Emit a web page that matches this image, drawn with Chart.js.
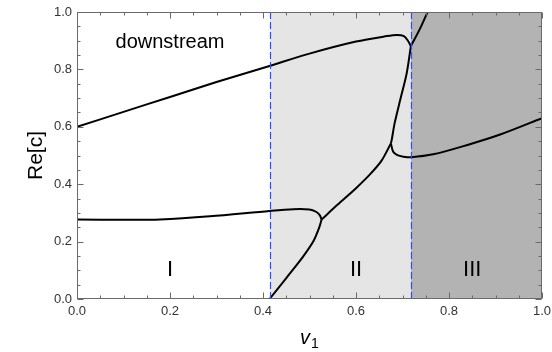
<!DOCTYPE html>
<html>
<head>
<meta charset="utf-8">
<script src="https://cdn.jsdelivr.net/npm/chart.js@4"></script>
<style>
html, body { margin: 0; padding: 0; background: #fff; }
</style>
</head>
<body>
<canvas id="chart" width="552" height="352"></canvas>
<script>
// branches of Re[c] against v1 as [v1, Re[c]]
var upperBranch = [[0, 0.6], [0.1, 0.652], [0.2, 0.704], [0.3, 0.756], [0.414, 0.812], [0.5, 0.855],
  [0.6, 0.897], [0.666, 0.916], [0.688, 0.920], [0.703, 0.916], [0.712, 0.899], [0.718, 0.881]];
var risingTop = [[0.718, 0.881], [0.738, 0.943], [0.754, 1.0]];
var steepBranch = [[0.718, 0.881], [0.709, 0.786], [0.695, 0.693], [0.683, 0.612], [0.677, 0.556], [0.675, 0.542]];
var lowerFlat = [[0, 0.277], [0.1, 0.276], [0.178, 0.277], [0.286, 0.288], [0.414, 0.307], [0.465, 0.313],
  [0.500, 0.312], [0.514, 0.304], [0.522, 0.292], [0.526, 0.277]];
var fromZero = [[0.414, 0], [0.450, 0.073], [0.485, 0.145], [0.508, 0.200], [0.520, 0.245], [0.526, 0.277]];
var middleBranch = [[0.526, 0.277], [0.560, 0.328], [0.600, 0.386], [0.630, 0.434], [0.655, 0.482], [0.675, 0.542]];
var lowerRight = [[0.675, 0.542], [0.680, 0.513], [0.689, 0.501], [0.702, 0.496], [0.719, 0.494], [0.766, 0.504],
  [0.838, 0.536], [0.910, 0.573], [1.0, 0.630]];

var regionBounds = [0.414, 0.719];
var regionNames = ['I', 'II', 'III'];
var regionNameX = [0.2, 0.6, 0.85];
var regionNameY = 0.1;
var noteText = 'downstream';
var notePos = [0.2, 0.895];

var yTitle = 'Re[c]';
var xTitle = ['v', '1'];

var font = 'Liberation Sans, Arial, sans-serif';
var regionFills = ['#ffffff', '#e5e5e5', '#b3b3b3'];

function isMajor(v) {
  return Math.abs(v / 0.2 - Math.round(v / 0.2)) < 1e-6;
}

function toPoints(arr) {
  return arr.map(function (p) { return { x: p[0], y: p[1] }; });
}

var branches = [upperBranch, risingTop, steepBranch, lowerFlat, fromZero, middleBranch, lowerRight];

var backdrop = {
  id: 'backdrop',
  beforeDatasetsDraw: function (chart) {
    var ctx = chart.ctx, a = chart.chartArea, xs = chart.scales.x, ys = chart.scales.y;
    var edges = [xs.min].concat(regionBounds).concat([xs.max]);
    ctx.save();
    for (var i = 0; i < regionFills.length; i++) {
      var x0 = Math.round(xs.getPixelForValue(edges[i])), x1 = Math.round(xs.getPixelForValue(edges[i + 1]));
      ctx.fillStyle = regionFills[i];
      ctx.fillRect(x0, a.top, x1 - x0, a.bottom - a.top);
    }
    ctx.fillStyle = '#000';
    ctx.textAlign = 'center';
    ctx.textBaseline = 'middle';
    ctx.font = '22px ' + font;
    regionNames.forEach(function (n, i) {
      ctx.fillText(n, xs.getPixelForValue(regionNameX[i]), ys.getPixelForValue(regionNameY));
    });
    ctx.font = '20px ' + font;
    ctx.fillText(noteText, xs.getPixelForValue(notePos[0]), ys.getPixelForValue(notePos[1]));
    ctx.restore();
  },
  afterDatasetsDraw: function (chart) {
    var ctx = chart.ctx, a = chart.chartArea, xs = chart.scales.x;
    ctx.save();
    ctx.strokeStyle = '#2f4cff';
    ctx.lineWidth = 1.2;
    ctx.setLineDash([7, 3]);
    regionBounds.forEach(function (b) {
      var px = Math.round(xs.getPixelForValue(b)) + 0.5;
      ctx.beginPath();
      ctx.moveTo(px, a.top);
      ctx.lineTo(px, a.bottom);
      ctx.stroke();
    });
    ctx.restore();
  },
  afterDraw: function (chart) {
    var ctx = chart.ctx, a = chart.chartArea, xs = chart.scales.x, ys = chart.scales.y;
    ctx.save();
    ctx.strokeStyle = '#6a6a6a';
    ctx.lineWidth = 1;
    var L = Math.round(a.left) + 0.5, R = Math.round(a.right) - 0.5;
    var T = Math.round(a.top) + 0.5, B = Math.round(a.bottom) - 0.5;
    ctx.strokeRect(L, T, R - L, B - T);
    ctx.beginPath();
    xs.ticks.forEach(function (t) {
      var px = Math.round(xs.getPixelForValue(t.value)) + 0.5;
      var len = isMajor(t.value) ? 6 : 3;
      ctx.moveTo(px, B); ctx.lineTo(px, B - len);
      ctx.moveTo(px, T); ctx.lineTo(px, T + len);
    });
    ys.ticks.forEach(function (t) {
      var py = Math.round(ys.getPixelForValue(t.value)) + 0.5;
      var len = isMajor(t.value) ? 6 : 3;
      ctx.moveTo(L, py); ctx.lineTo(L + len, py);
      ctx.moveTo(R, py); ctx.lineTo(R - len, py);
    });
    ctx.stroke();

    // x axis title with subscript
    ctx.fillStyle = '#000';
    ctx.textBaseline = 'alphabetic';
    ctx.textAlign = 'left';
    ctx.font = 'italic 20px ' + font;
    var w1 = ctx.measureText(xTitle[0]).width;
    ctx.font = '14px ' + font;
    var w2 = ctx.measureText(xTitle[1]).width;
    var cx = (a.left + a.right) / 2;
    var sx = cx - (w1 + w2 + 1) / 2;
    var base = 344;
    ctx.font = 'italic 20px ' + font;
    ctx.fillText(xTitle[0], sx, base);
    ctx.font = '14px ' + font;
    ctx.fillText(xTitle[1], sx + w1 + 1, base + 4);
    ctx.restore();
  }
};

new Chart(document.getElementById('chart').getContext('2d'), {
  type: 'scatter',
  data: {
    datasets: branches.map(function (b) {
      return {
        data: toPoints(b),
        showLine: true,
        borderColor: '#000',
        borderWidth: 2,
        pointRadius: 0,
        tension: 0.3,
        fill: false
      };
    })
  },
  options: {
    responsive: false,
    animation: false,
    devicePixelRatio: 1,
    layout: { padding: { top: 12, right: 10, left: 0, bottom: 0 } },
    plugins: { legend: { display: false }, tooltip: { enabled: false } },
    scales: {
      x: {
        type: 'linear', min: 0, max: 1,
        grid: { display: false, drawTicks: false },
        border: { display: false },
        ticks: {
          stepSize: 0.05, autoSkip: false, maxRotation: 0, padding: 5,
          color: '#333', font: { family: font, size: 13 },
          callback: function (v) { return isMajor(v) ? v.toFixed(1) : ''; }
        },
        afterFit: function (s) { s.height = 53; s.paddingLeft = 0; s.paddingRight = 0; }
      },
      y: {
        type: 'linear', min: 0, max: 1,
        grid: { display: false, drawTicks: false },
        border: { display: false },
        ticks: {
          stepSize: 0.05, autoSkip: false, padding: 5,
          color: '#333', font: { family: font, size: 13 },
          callback: function (v) { return isMajor(v) ? v.toFixed(1) : ''; }
        },
        title: { display: true, text: yTitle, color: '#000', font: { family: font, size: 21 }, padding: { top: 24, bottom: 0 } },
        afterFit: function (s) { s.width = 77; s.paddingTop = 0; s.paddingBottom = 0; }
      }
    }
  },
  plugins: [backdrop]
});
</script>
</body>
</html>
